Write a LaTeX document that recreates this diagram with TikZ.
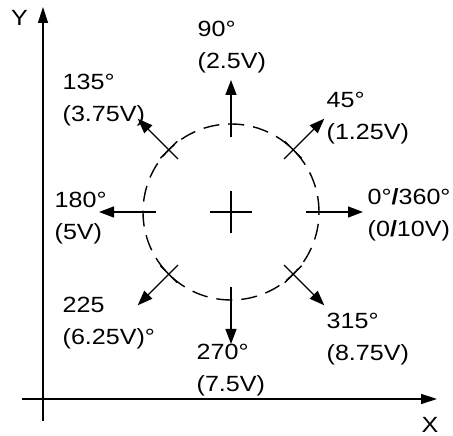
\documentclass[tikz,border=0pt]{standalone}
\usepackage{fontspec}
\setmainfont{Liberation Sans}[FakeStretch=1.14]
\usetikzlibrary{arrows.meta,calc}

\begin{document}
\begin{tikzpicture}[
  x=1pt,y=1pt,
  line width=1.4pt,
  font=\fontsize{22}{32}\selectfont,
  axis/.style={-{Triangle[length=16pt,width=10pt]}},
  ray/.style={-{Triangle[length=15pt,width=11pt]}},
  lbl/.style={anchor=base west,align=left,inner sep=0pt}]

\useasboundingbox (0,0) rectangle (453,436);

% --- axes ---
\coordinate (xs) at (22,37);
\coordinate (xe) at (437,37);
\coordinate (ys) at (43,15);
\coordinate (ye) at (43,429);
\draw[axis] (xs) -- (xe);
\draw[axis] (ys) -- (ye);
\node (ylab) at (19.5,418) {Y};
\node (xlab) at (430,11) {X};

% --- dashed circle and centre cross ---
\coordinate (c) at (231,224);
\draw[dash pattern=on 16pt off 9pt] (c) circle[radius=88];
\draw ($(c)+(-21,0)$) -- ($(c)+(21,0)$);
\draw ($(c)+(0,-21)$) -- ($(c)+(0,21)$);

% --- rays, every 45 degrees ---
\foreach \a in {0,45,...,315} {
  \coordinate (s\a) at ($(c)+(\a:75)$);
  \coordinate (t\a) at ($(c)+(\a:132)$);
  \draw[ray] (s\a) -- (t\a);
}
% small crosses on the diagonals
\foreach \a in {45,135,225,315} {
  \coordinate (m\a) at ($(c)+(\a:88)$);
  \draw ($(m\a)+(\a+90:12)$) -- ($(m\a)+(\a-90:12)$);
}

% --- angle / voltage labels (anchored on their last line) ---
\node[lbl] (l90)  at (197,367) {90°\\(2.5V)};
\node[lbl] (l135) at (62,314)  {135°\\(3.75V)};
\node[lbl] (l45)  at (326,296) {45°\\(1.25V)};
\node[lbl] (l180) at (54,196)  {180°\\(5V)};
\node[lbl] (l0)   at (367,199) {0°\textbf{/}360°\\(0\textbf{/}10V)};
\node[lbl] (l225) at (62,91)   {225\\(6.25V)°};
\node[lbl] (l270) at (196,44)  {270°\\(7.5V)};
\node[lbl] (l315) at (326,75)  {315°\\(8.75V)};

\end{tikzpicture}
\end{document}
